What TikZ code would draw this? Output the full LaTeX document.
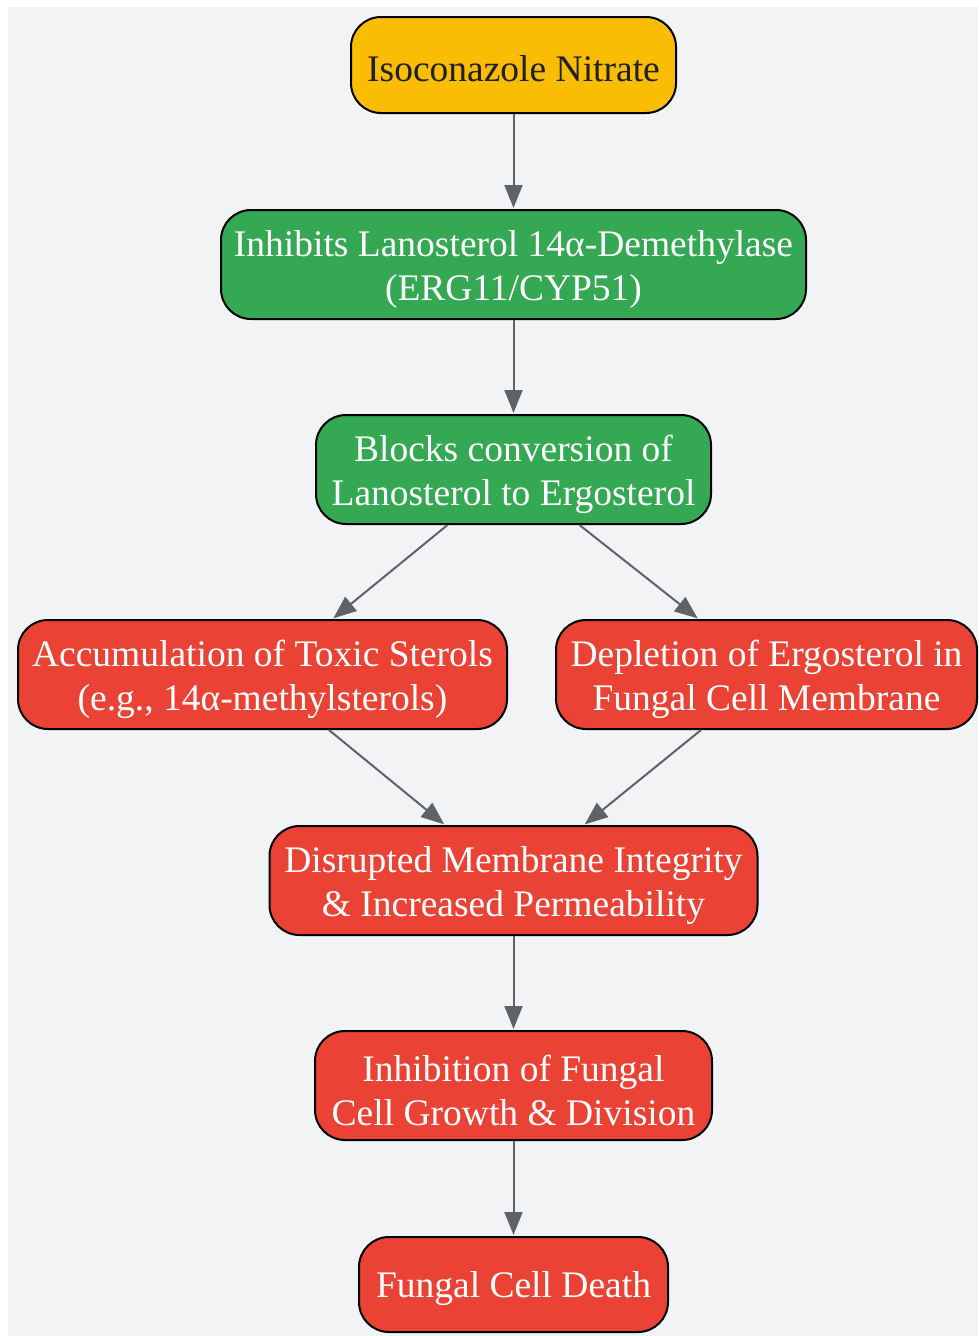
\documentclass[tikz,border=0pt]{standalone}
\usepackage{fontspec}
\setmainfont{Liberation Serif}
\usetikzlibrary{arrows.meta}
\definecolor{bgc}{HTML}{F1F3F4}
\definecolor{ylw}{HTML}{FBBC04}
\definecolor{grn}{HTML}{34A853}
\definecolor{rd}{HTML}{EA4335}
\definecolor{edgec}{HTML}{5F6368}
\definecolor{dtxt}{HTML}{202124}
\tikzset{
  box/.style={draw=black, line width=2pt, rounded corners=30pt, inner sep=0pt},
  ybox/.style={box, fill=ylw},
  gbox/.style={box, fill=grn},
  rbox/.style={box, fill=rd},
  txt/.style={inner sep=0pt, align=center, font=\fontsize{37.5}{44}\selectfont, text=white},
  dtext/.style={txt, text=dtxt},
  conn/.style={draw=edgec, line width=2pt, -{Triangle[length=23pt,width=18pt]}, shorten >=1pt}
}
\begin{document}
\begin{tikzpicture}[x=1pt,y=-1pt]
\useasboundingbox (0,0) rectangle (978,1336);
\fill[bgc] (8,7) rectangle (978,1336);
\node[ybox, minimum width=325pt, minimum height=96pt] (iso) at (513.5,65) {};
\node[dtext] (isot) at ([yshift=-4pt]iso.center) {Isoconazole Nitrate};
\node[gbox, minimum width=585pt, minimum height=109pt] (inh) at (513.5,264.5) {};
\node[txt] (inht) at ([yshift=-5pt]inh.center) {Inhibits Lanosterol 14α-Demethylase\\(ERG11/CYP51)};
\node[gbox, minimum width=395pt, minimum height=109pt] (blk) at (513.5,469.5) {};
\node[txt] (blkt) at ([yshift=-5pt]blk.center) {Blocks conversion of\\Lanosterol to Ergosterol};
\node[rbox, minimum width=489pt, minimum height=109pt] (acc) at (262.5,674.5) {};
\node[txt] (acct) at ([yshift=-5pt]acc.center) {Accumulation of Toxic Sterols\\(e.g., 14α-methylsterols)};
\node[rbox, minimum width=421pt, minimum height=109pt] (dep) at (766.5,674.5) {};
\node[txt] (dept) at ([yshift=-5pt]dep.center) {Depletion of Ergosterol in\\Fungal Cell Membrane};
\node[rbox, minimum width=488pt, minimum height=109pt] (dis) at (513.5,880.5) {};
\node[txt] (dist) at ([yshift=-5pt]dis.center) {Disrupted Membrane Integrity\\\& Increased Permeability};
\node[rbox, minimum width=397pt, minimum height=109pt] (gro) at (513.5,1085.5) {};
\node[txt] (grot) at ([yshift=-5pt]gro.center) {Inhibition of Fungal\\Cell Growth \& Division};
\node[rbox, minimum width=309pt, minimum height=95pt] (dth) at (513.5,1284.5) {};
\node[txt] (dtht) at ([yshift=-4pt]dth.center) {Fungal Cell Death};
\draw[conn] (iso.south) -- (inh.north);
\draw[conn] (inh.south) -- (blk.north);
\draw[conn] ([xshift=-66pt]blk.south) -- ([xshift=70pt]acc.north);
\draw[conn] ([xshift=66pt]blk.south) -- ([xshift=-68pt]dep.north);
\draw[conn] ([xshift=66.5pt]acc.south) -- ([xshift=-68.5pt]dis.north);
\draw[conn] ([xshift=-65.5pt]dep.south) -- ([xshift=70.5pt]dis.north);
\draw[conn] (dis.south) -- (gro.north);
\draw[conn] (gro.south) -- (dth.north);
\end{tikzpicture}
\end{document}
